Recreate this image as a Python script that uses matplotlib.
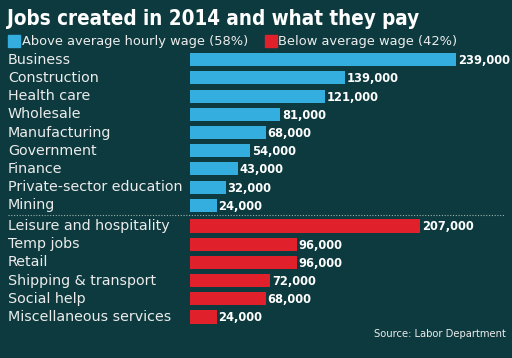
import matplotlib.pyplot as plt
import matplotlib.transforms as mtransforms
from matplotlib.lines import Line2D
from matplotlib.patches import Rectangle

above_cats = ["Business", "Construction", "Health care", "Wholesale", "Manufacturing",
              "Government", "Finance", "Private-sector education", "Mining"]
above_vals = [239000, 139000, 121000, 81000, 68000, 54000, 43000, 32000, 24000]
below_cats = ["Leisure and hospitality", "Temp jobs", "Retail", "Shipping & transport",
              "Social help", "Miscellaneous services"]
below_vals = [207000, 96000, 96000, 72000, 68000, 24000]

bg = "#0d3a3e"
blue = "#33aede"
red = "#e0202a"
txt = "#ececec"

W, H = 512, 358
fig = plt.figure(figsize=(W / 100, H / 100), dpi=100, facecolor=bg)
ax = fig.add_axes([190 / W, 0, 1 - 190 / W, 1])
ax.set_facecolor(bg)
ax.axis("off")

# row positions: blue group, then a small extra gap, then red group
y_above = list(range(len(above_cats)))
y_below = [9.14 + i for i in range(len(below_cats))]

ax.barh(y_above, above_vals, height=0.72, color=blue)
ax.barh(y_below, below_vals, height=0.72, color=red)
ax.set_xlim(0, 289300)
ax.set_ylim((H - 59.7) / 18.2, -59.7 / 18.2)

trans = mtransforms.blended_transform_factory(fig.transFigure, ax.transData)
for cats, vals, ys in [(above_cats, above_vals, y_above), (below_cats, below_vals, y_below)]:
    for c, v, y in zip(cats, vals, ys):
        ax.text(8 / W, y, c, transform=trans, ha="left", va="center",
                fontsize=10.3, color=txt, family="DejaVu Sans")
        ax.text(v + 1600, y + 0.05, f"{v:,}", ha="left", va="center",
                fontsize=9.2, color="white", fontweight="bold",
                family="DejaVu Sans", fontstretch="condensed")

# dotted separator
fig.add_artist(Line2D([8 / W, 505 / W], [1 - 214.7 / H] * 2, transform=fig.transFigure,
                      color="#9ab0b0", lw=0.8, ls=(0, (1, 1.5))))

# title
fig.text(7 / W, 1 - 9 / H, "Jobs created in 2014 and what they pay", ha="left", va="top",
         fontsize=14.8, color="white", fontweight="bold",
         family="DejaVu Sans", fontstretch="condensed")

# legend
fig.add_artist(Rectangle((8 / W, 1 - 47 / H), 12 / W, 12 / H, transform=fig.transFigure,
                         color=blue))
fig.text(22 / W, 1 - 41 / H, "Above average hourly wage (58%)", ha="left", va="center",
         fontsize=9.4, color=txt)
fig.add_artist(Rectangle((265 / W, 1 - 47 / H), 12 / W, 12 / H, transform=fig.transFigure,
                         color=red))
fig.text(278 / W, 1 - 41 / H, "Below average wage (42%)", ha="left", va="center",
         fontsize=9.4, color=txt)

fig.text(506 / W, 1 - 334 / H, "Source: Labor Department", ha="right", va="center",
         fontsize=7.2, color=txt)

fig.savefig("out.png", dpi=100, facecolor=bg)
